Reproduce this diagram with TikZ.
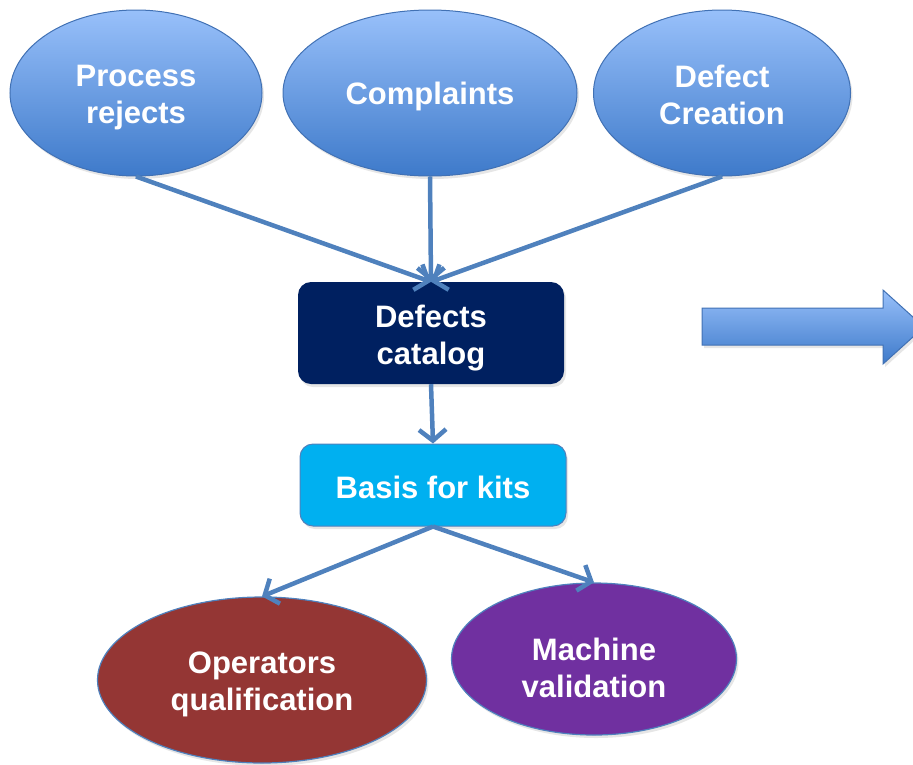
\documentclass[tikz,border=0pt]{standalone}
\usepackage{fontspec}
\setmainfont{Liberation Sans}
\usepackage{xcolor}
\usetikzlibrary{shapes.geometric, arrows.meta, shadows}

\definecolor{linkblue}{RGB}{79,129,189}
\definecolor{edgeblue}{RGB}{65,113,180}
\definecolor{lightblue}{RGB}{152,192,250}
\definecolor{deepblue}{RGB}{62,122,202}
\definecolor{navy}{RGB}{0,32,96}
\definecolor{cyanbox}{RGB}{0,176,240}
\definecolor{brickred}{RGB}{148,54,52}
\definecolor{violet}{RGB}{112,48,160}

\begin{document}
\begin{tikzpicture}[x=1pt, y=-1pt,
	txt/.style={text=white, align=center, font=\fontsize{31}{37}\selectfont\bfseries, inner sep=0pt},
	soft/.style={drop shadow={opacity=0.2, shadow xshift=2pt, shadow yshift=-3pt}},
	source/.style={ellipse, soft, draw=edgeblue, line width=1pt, top color=lightblue, bottom color=deepblue},
	result/.style={ellipse, soft, draw=linkblue, line width=1.2pt},
	panel/.style={soft, rounded corners=13pt, minimum width=266pt},
	link/.style={draw=linkblue, line width=4.5pt, -{Straight Barb[length=11pt, width=27pt]}}]

	\useasboundingbox (0,0) rectangle (913,764);

	% sources
	\node[source, minimum width=252pt, minimum height=166pt] (pr) at (136,93) {};
	\node[source, minimum width=294pt, minimum height=166pt] (cp) at (430,93) {};
	\node[source, minimum width=257pt, minimum height=166pt] (dc) at (722,93) {};
	\node[txt] (prtext) at ([yshift=-5pt]pr.center) {Process\\rejects};
	\node[txt] (cptext) at ([yshift=-3pt]cp.center) {Complaints};
	\node[txt] (dctext) at ([yshift=-2pt]dc.center) {Defect\\Creation};

	% catalog and kits
	\node[panel, fill=navy, minimum height=102pt] (cat) at (431,333) {};
	\node[panel, fill=cyanbox, draw=linkblue, line width=1pt, minimum height=82pt] (kit) at (433,485) {};
	\node[txt] (cattext) at ([yshift=-5pt]cat.center) {Defects\\catalog};
	\node[txt] (kittext) at ([yshift=-2pt]kit.center) {Basis for kits};

	% uses
	\node[result, fill=brickred, minimum width=329pt, minimum height=166pt] (op) at (262,680) {};
	\node[result, fill=violet, minimum width=285pt, minimum height=152pt] (mv) at (594,659) {};
	\node[txt] (optext) at ([yshift=-4pt]op.center) {Operators\\qualification};
	\node[txt] (mvtext) at ([yshift=-9pt]mv.center) {Machine\\validation};

	\draw[link] (pr.south) -- (cat.north);
	\draw[link] (cp.south) -- (cat.north);
	\draw[link] (dc.south) -- (cat.north);
	\draw[link] (cat.south) -- (kit.north);
	\draw[link] (kit.south) -- (op.north);
	\draw[link] (kit.south) -- (mv.north);

	% block arrow on the right
	\draw[edgeblue, line width=1pt, top color=lightblue, bottom color=deepblue, soft]
		(702,308)--(883,308)--(883,290)--(924,327)--(883,364)--(883,345)--(702,345)--cycle;

\end{tikzpicture}
\end{document}
